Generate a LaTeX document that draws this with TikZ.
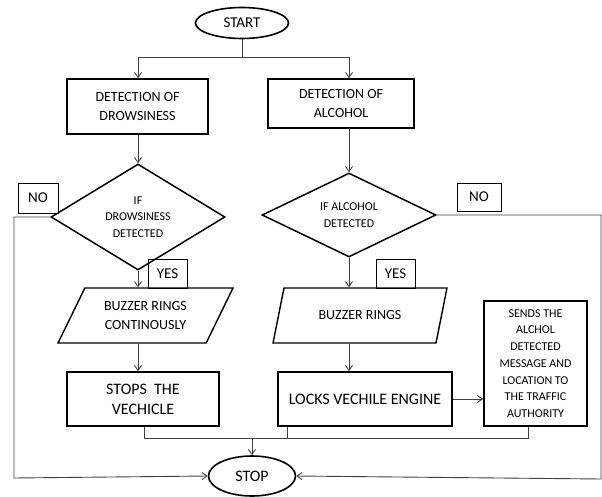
\documentclass[tikz,border=0pt]{standalone}
\usepackage{fontspec}
\setmainfont{Carlito}
\usetikzlibrary{shapes.geometric,arrows.meta}
\begin{document}
\begin{tikzpicture}[x=1pt,y=-1pt,
  box/.style={draw, line width=1.7pt, align=center, inner sep=0pt},
  dec/.style={draw, diamond, line width=1.5pt, minimum width=174pt, minimum height=84pt, inner sep=0pt, align=center, font=\fontsize{12}{16.5}\selectfont},
  io/.style={draw, trapezium, trapezium left angle=57, trapezium right angle=123, trapezium stretches=true, line width=1.4pt, minimum width=175pt, minimum height=55pt, align=center, inner sep=0pt, font=\fontsize{14}{19}\selectfont},
  term/.style={draw, ellipse, line width=1.6pt, inner sep=0pt},
  lab/.style={draw, line width=0.8pt, inner sep=0pt, font=\fontsize{15}{18}\selectfont},
  line/.style={line width=0.9pt, draw=black!75},
  arr/.style={line, -{Straight Barb[length=5pt,width=7pt]}}]
\useasboundingbox (0,0) rectangle (602,497);

\node[term, minimum width=93pt, minimum height=31pt, font=\fontsize{15}{18}\selectfont] (start) at (242,23) {START};
\node[box, minimum width=141pt, minimum height=55pt, font=\fontsize{14}{19}\selectfont] (b1) at (137.5,106.5) {DETECTION OF\\DROWSINESS};
\node[box, minimum width=146pt, minimum height=49pt, font=\fontsize{14}{19}\selectfont] (b2) at (341,103.5) {DETECTION OF\\ALCOHOL};
\node[dec] (d1) at (138,217) {IF\\DROWSINESS\\DETECTED};
\node[dec] (d2) at (349,215) {IF ALCOHOL\\DETECTED};
\node[lab, minimum width=40pt, minimum height=30pt] (no1) at (38,198) {NO};
\node[lab, minimum width=44pt, minimum height=28pt] (no2) at (479,197) {NO};
\node[lab, minimum width=39pt, minimum height=29pt] (yes1) at (167.5,273.5) {YES};
\node[lab, minimum width=39pt, minimum height=29pt] (yes2) at (395.5,273.5) {YES};
\node[io] (p1) at (145.5,315.5) {BUZZER RINGS\\CONTINOUSLY};
\node[io] (p2) at (360,315.5) {BUZZER RINGS};
\node[box, minimum width=152pt, minimum height=54pt, font=\fontsize{16}{20}\selectfont] (s1) at (143,399) {STOPS\ \ THE\\VECHICLE};
\node[box, minimum width=174pt, minimum height=54pt, font=\fontsize{16}{20}\selectfont] (lock) at (365,399) {LOCKS VECHILE ENGINE};
\node[box, minimum width=103pt, minimum height=125pt, font=\fontsize{12}{16.7}\selectfont] (send) at (535.5,363.5) {SENDS THE\\ALCHOL\\DETECTED\\MESSAGE AND\\LOCATION TO\\THE TRAFFIC\\AUTHORITY};
\node[term, minimum width=87pt, minimum height=40pt, font=\fontsize{16}{19}\selectfont] (stop) at (252,476) {STOP};

\coordinate (sp) at (242,57);
\coordinate (cl) at (138,0);
\coordinate (cr) at (349,0);
\draw[line] (start) -- (sp);
\draw[arr] (sp) -| (cl |- b1.north);
\draw[arr] (sp) -| (cr |- b2.north);
\draw[arr] (cl |- b1.south) -- (d1.north);
\draw[arr] (cr |- b2.south) -- (d2.north);
\draw[arr] (d1.south) -- (cl |- p1.north);
\draw[arr] (d2.south) -- (cr |- p2.north);
\draw[arr] (cl |- p1.south) -- (cl |- s1.north);
\draw[arr] (cr |- p2.south) -- (cr |- lock.north);
\draw[arr] (lock.east) -- (lock.east -| send.west);

\coordinate (j) at (252,438);
\coordinate (jl) at (144,438);
\coordinate (jr) at (528,438);
\coordinate (jm) at (287,438);
\draw[line] (jl |- s1.south) -- (jl) -- (jr) -- (jr |- send.south);
\draw[line] (jm |- lock.south) -- (jm);
\draw[arr] (j) -- (stop);

\coordinate (ll) at (14,478);
\coordinate (rr) at (601,479);
\draw[arr] (d1.west) -| (ll) -- (stop.west);
\draw[arr] (d2.east) -| (rr) -- (stop.east);
\end{tikzpicture}
\end{document}
